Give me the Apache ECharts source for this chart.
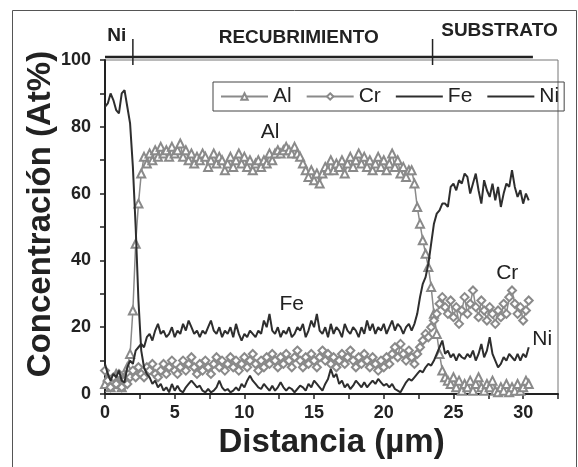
<!DOCTYPE html>
<html>
<head>
<meta charset="utf-8">
<script src="https://cdn.jsdelivr.net/npm/echarts@6/dist/echarts.min.js"></script>
<style>
html,body{margin:0;padding:0;background:#fff;}
#chart{width:578px;height:467px;}
</style>
</head>
<body>
<div id="chart"></div>
<script>
// ---- data ----
const distance = [0,0.2,0.4,0.6,0.8,1,1.2,1.4,1.6,1.8,2,2.2,2.4,2.6,2.8,3,3.2,3.4,3.6,3.8,4,4.2,4.4,4.6,4.8,5,5.2,5.4,5.6,5.8,6,6.2,6.4,6.6,6.8,7,7.2,7.4,7.6,7.8,8,8.2,8.4,8.6,8.8,9,9.2,9.4,9.6,9.8,10,10.2,10.4,10.6,10.8,11,11.2,11.4,11.6,11.8,12,12.2,12.4,12.6,12.8,13,13.2,13.4,13.6,13.8,14,14.2,14.4,14.6,14.8,15,15.2,15.4,15.6,15.8,16,16.2,16.4,16.6,16.8,17,17.2,17.4,17.6,17.8,18,18.2,18.4,18.6,18.8,19,19.2,19.4,19.6,19.8,20,20.2,20.4,20.6,20.8,21,21.2,21.4,21.6,21.8,22,22.2,22.4,22.6,22.8,23,23.2,23.4,23.6,23.8,24,24.2,24.4,24.6,24.8,25,25.2,25.4,25.6,25.8,26,26.2,26.4,26.6,26.8,27,27.2,27.4,27.6,27.8,28,28.2,28.4,28.6,28.8,29,29.2,29.4,29.6,29.8,30,30.2,30.4];

const al = [3,5,2,4,6,3,2,5,8,12,
25,45,57,66,71,69,72,70,73,71,
74,72,73,71,74,72,73,75,71,73,
70,72,69,71,70,72,71,68,70,72,
69,71,70,67,69,71,68,70,72,69,
71,68,70,67,69,70,68,70,69,72,
70,72,73,72,73,74,73,72,74,72,
71,69,67,65,67,64,66,63,66,68,
67,70,67,69,68,70,66,69,71,68,
70,72,69,71,68,70,67,69,71,68,
70,67,69,72,68,70,66,68,65,67,
67,63,56,51,46,42,38,32,24,18,
12,7,5,4,3,5,2,4,1,3,
2,4,1,3,5,2,1,3,2,4,
1,0.5,2,1,3,0.5,2,1,3,1,
2,4,3];

const cr = [7,4,2,5,3,6,2,4,3,5,
7,5,8,6,5,8,7,9,6,5,
7,9,6,8,10,7,6,8,10,7,
9,11,8,6,9,7,10,8,6,9,
11,8,10,7,9,11,8,10,7,9,
11,8,10,12,9,7,10,8,11,9,
12,10,8,11,9,12,10,8,11,13,
10,8,11,9,12,10,8,11,13,10,
12,9,11,8,10,12,9,11,13,10,
8,11,9,12,10,8,11,9,7,10,
8,11,9,12,14,11,15,12,10,13,
11,9,12,14,16,18,17,20,22,24,
27,29,26,24,28,23,26,21,25,29,
24,27,31,26,23,28,25,22,26,24,
21,25,23,27,24,29,31,27,24,26,
22,25,28];

const fe = [9,6,4,6,5,7,4,3.5,8,10,
9,13,14,15,14,17,18,16,19,21,
18,19,17,18,20,17,19,18,21,19,
22,20,18,19,17,19,18,20,22,19,
18,20,17,19,18,20,17,21,18,16,
18,17,19,18,17,19,18,22,20,24,
19,18,20,17,19,18,20,17,18,20,
19,21,17,19,22,20,24,19,18,20,
17,21,18,20,19,17,21,19,18,20,
19,17,20,18,22,19,21,18,20,19,
21,18,20,22,19,21,20,18,20,21,
19,21,24,29,33,35,39,45,51,54,
55,57,57,56,62,63,61,64,63,66,
65,60,63,66,61,57,64,61,59,63,
58,62,56,60,63,62,67,62,59,61,
57,60,58];

const ni = [86,87,90,88,85,84,90,91,86,81,
68,50,28,13,8,6,5,3,4,2,
3,1,2,0.5,3,1,2.5,1,0.5,2,
3,4,3,2,2.5,1,0.5,1.5,0.5,1,
2,4,2,1,1.5,0.5,1,2,1,3,
2,4,5.5,4,3,2,1.5,3,2,1,
2.5,1,2,3.5,2,1,2,1.5,0.5,1.5,
2.5,2,1,3,2,4,3,2,1,3,
4.5,7.5,5,6,3,4,2,3,1.5,2.5,
4,3,2,3.5,2,3,4,3,4.5,3.5,
2.5,3,2,3,1.5,1,0.5,2,3.5,4.5,
4,5,6,7,6.5,8,9,8.5,10,12,
14,16,12,13,11,12,10,12,11,10.5,
12,11,13,10,12,15,11,13,17,12,
10,8,9,11,10,12,11,10,12,10,
12,11,14];

const seriesNames = ['Al', 'Cr', 'Fe', 'Ni'];
const xTickLabels = ['0', '5', '10', '15', '20', '25', '30'];
const yTickLabels = ['0', '20', '40', '60', '80', '100'];

// header zones (distance units)
const headerSpan = [0, 30.7];
const headerDividers = [2.0, 23.5];
const headerLabels = ['Ni', 'RECUBRIMIENTO', 'SUBSTRATO'];
const headerLabelX = [0.85, 13.9, 28.3];

// in-plot annotations
const annoLabels = ['Al', 'Fe', 'Cr', 'Ni'];
const annoX = [11.85, 13.4, 28.86, 31.37];
const annoY = [78.4, 26.9, 36.2, 16.5];

const yAxisTitle = 'Concentración (At%)';
const xAxisTitle = 'Distancia (µm)';

// ---- chart ----
const FONT = '"Liberation Sans", Arial, Helvetica, sans-serif';
const GRAY = '#8a8a8a';
const DARK = '#2e2e2e';

function pairs(ys) { return distance.map((x, i) => [x, ys[i]]); }

const chart = echarts.init(document.getElementById('chart'), null, { renderer: 'canvas' });

const option = {
  backgroundColor: '#ffffff',
  animation: false,
  textStyle: { fontFamily: FONT },
  grid: { left: 105, right: 20, top: 60, bottom: 73, show: true, borderColor: '#777', borderWidth: 1 },
  legend: {
    data: [
      { name: 'Al' },
      { name: 'Cr' },
      { name: 'Fe', itemStyle: { opacity: 0 } },
      { name: 'Ni', itemStyle: { opacity: 0 } }
    ],
    left: 213, top: 82,
    orient: 'horizontal',
    borderColor: '#444', borderWidth: 1,
    padding: [4, 5, 4, 7],
    itemWidth: 47, itemHeight: 8, itemGap: 14,
    textStyle: { fontSize: 21, color: '#222', fontFamily: FONT }
  },
  xAxis: {
    type: 'value', min: 0, max: 32.5, interval: 2.5,
    name: xAxisTitle, nameLocation: 'middle', nameGap: 28,
    nameTextStyle: { fontSize: 33, fontWeight: 'bold', color: '#222', fontFamily: FONT },
    axisLine: { show: true, lineStyle: { color: '#222', width: 2 } },
    axisTick: { show: true, length: 5, lineStyle: { color: '#222', width: 1.5 } },
    axisLabel: {
      fontSize: 18, fontWeight: 'bold', color: '#222', margin: 10,
      formatter: v => xTickLabels.indexOf(String(v)) >= 0 ? String(v) : ''
    },
    splitLine: { show: false }
  },
  yAxis: {
    type: 'value', min: 0, max: 100, interval: 10,
    axisLine: { show: true, lineStyle: { color: '#222', width: 2 } },
    axisTick: { show: true, length: 5, lineStyle: { color: '#222', width: 1.5 } },
    axisLabel: {
      fontSize: 18, fontWeight: 'bold', color: '#222', margin: 14,
      formatter: v => yTickLabels.indexOf(String(v)) >= 0 ? String(v) : ''
    },
    splitLine: { show: false }
  },
  series: [
    {
      name: 'Al', type: 'line', data: pairs(al),
      symbol: 'emptyTriangle', symbolSize: 8, showAllSymbol: true,
      lineStyle: { color: GRAY, width: 1.5 },
      itemStyle: { color: GRAY, borderColor: GRAY, borderWidth: 1.5 },
      z: 2
    },
    {
      name: 'Cr', type: 'line', data: pairs(cr),
      symbol: 'emptyDiamond', symbolSize: 8, showAllSymbol: true,
      lineStyle: { color: GRAY, width: 1.5 },
      itemStyle: { color: GRAY, borderColor: GRAY, borderWidth: 1.5 },
      z: 2
    },
    {
      name: 'Fe', type: 'line', data: pairs(fe),
      symbol: 'none',
      lineStyle: { color: DARK, width: 2 },
      itemStyle: { color: DARK },
      z: 3
    },
    {
      name: 'Ni', type: 'line', data: pairs(ni),
      symbol: 'none',
      lineStyle: { color: DARK, width: 2 },
      itemStyle: { color: DARK },
      z: 3
    }
  ]
};

chart.setOption(option);

// ---- header, titles and annotations, placed through the axis scales ----
const toPx = (x, y) => chart.convertToPixel({ gridIndex: 0 }, [x, y]);
const topPx = toPx(0, 100)[1];
const lineY = topPx - 3;
const graphics = [];

// outer frame of the figure
graphics.push({
  type: 'rect', left: 10, top: 8, shape: { x: 0, y: 0, width: 564, height: 480 },
  style: { fill: null, stroke: '#555', lineWidth: 1 }, silent: true, z: 0
});

// y-axis title (rotated), centred slightly above the plot middle as in the original
graphics.push({
  type: 'text', x: 41, y: 214, rotation: Math.PI / 2,
  style: { text: yAxisTitle, fontSize: 33, fontWeight: 'bold', fill: '#222', fontFamily: FONT, align: 'center', verticalAlign: 'middle' },
  z: 10
});

const hx0 = toPx(headerSpan[0], 100)[0];
const hx1 = toPx(headerSpan[1], 100)[0];
graphics.push({
  type: 'line', shape: { x1: hx0, y1: lineY, x2: hx1, y2: lineY },
  style: { stroke: '#222', lineWidth: 2.5 }, z: 10
});
headerDividers.forEach(d => {
  const px = toPx(d, 100)[0];
  graphics.push({
    type: 'line', shape: { x1: px, y1: lineY - 18, x2: px, y2: lineY + 8 },
    style: { stroke: '#222', lineWidth: 1.5 }, z: 10
  });
});
const headerY = [36, 38, 31];
headerLabels.forEach((t, i) => {
  const px = toPx(headerLabelX[i], 100)[0];
  graphics.push({
    type: 'text', x: px, y: headerY[i],
    style: { text: t, fontSize: 19, fontWeight: 'bold', fill: '#222', fontFamily: FONT, align: 'center', verticalAlign: 'middle' },
    z: 10
  });
});

annoLabels.forEach((t, i) => {
  const p = toPx(annoX[i], annoY[i]);
  graphics.push({
    type: 'text', x: p[0], y: p[1],
    style: { text: t, fontSize: 21, fill: '#222', fontFamily: FONT, align: 'center', verticalAlign: 'middle' },
    z: 10
  });
});

chart.setOption({ graphic: graphics });
</script>
</body>
</html>
